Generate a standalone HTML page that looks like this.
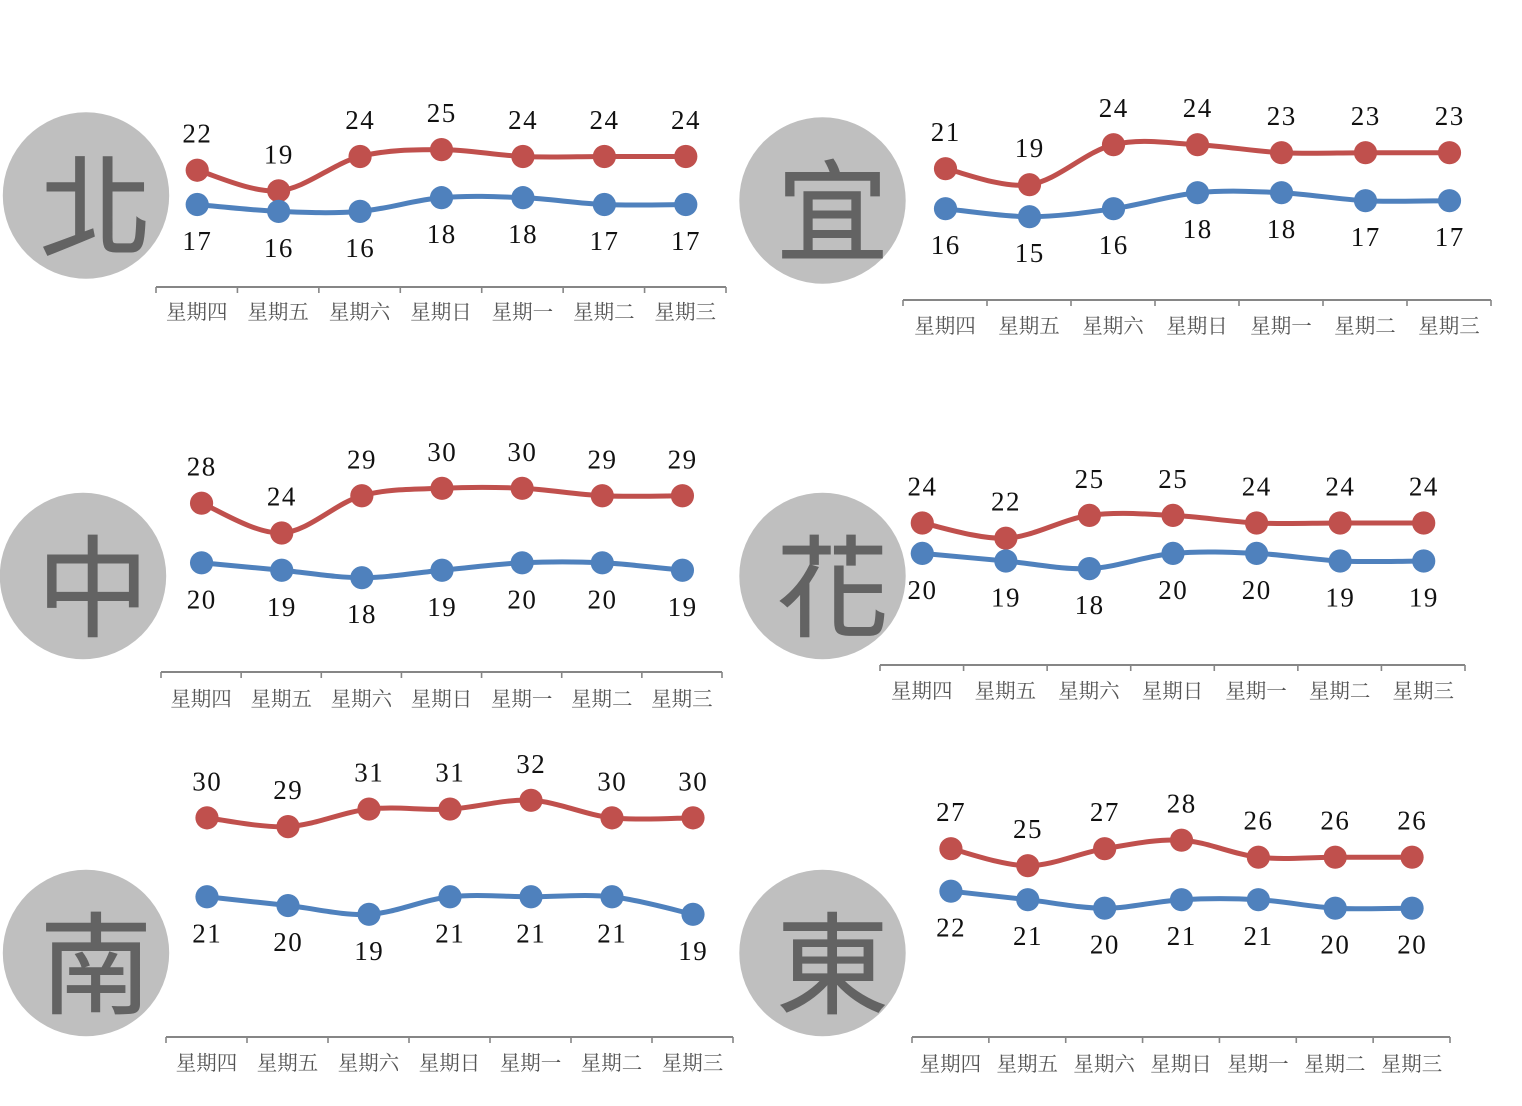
<!DOCTYPE html>
<html lang="zh-Hant">
<head>
<meta charset="utf-8">
<title>一週氣溫預報</title>
<style>
html,body{margin:0;padding:0;background:#fff;}
svg{display:block;}
.val{font-family:"Liberation Serif","Noto Serif CJK TC",serif;font-size:27px;fill:#111;text-anchor:middle;letter-spacing:1.5px;}
.day{font-family:"Noto Serif CJK TC","Noto Serif CJK SC","Liberation Serif",serif;font-size:20.5px;fill:#555;text-anchor:middle;}
.big{font-family:"Liberation Sans","Noto Sans CJK TC",sans-serif;font-size:110px;text-anchor:middle;}
</style>
</head>
<body>
<svg id="chart" xmlns="http://www.w3.org/2000/svg" width="1522" height="1106" viewBox="0 0 1522 1106">
<defs>
<linearGradient id="bigGrad" x1="0" y1="1" x2="1" y2="0">
<stop offset="0" stop-color="#555"/>
<stop offset="1" stop-color="#7a7a7a"/>
</linearGradient>
</defs>
</svg>
<script>
const categories = ['星期四','星期五','星期六','星期日','星期一','星期二','星期三'];

const northHigh = [22,19,24,25,24,24,24];
const northLow  = [17,16,16,18,18,17,17];
const yilanHigh = [21,19,24,24,23,23,23];
const yilanLow  = [16,15,16,18,18,17,17];
const centralHigh = [28,24,29,30,30,29,29];
const centralLow  = [20,19,18,19,20,20,19];
const hualienHigh = [24,22,25,25,24,24,24];
const hualienLow  = [20,19,18,20,20,19,19];
const southHigh = [30,29,31,31,32,30,30];
const southLow  = [21,20,19,21,21,21,19];
const eastHigh = [27,25,27,28,26,26,26];
const eastLow  = [22,21,20,21,21,20,20];

const panels = [
  {id:'north',   region:'北', high:northHigh,   low:northLow,   cx:86,    cy:195.5, left:156, right:726,  axisY:287,  refV:24, refY:156.5, ppd:6.86, dayY:319},
  {id:'yilan',   region:'宜', high:yilanHigh,   low:yilanLow,   cx:822.5, cy:200.5, left:903, right:1491, axisY:300,  refV:24, refY:144.7, ppd:8.0,  dayY:333},
  {id:'central', region:'中', high:centralHigh, low:centralLow, cx:83,    cy:576,   left:161, right:722,  axisY:672,  refV:30, refY:488.3, ppd:7.45, dayY:706},
  {id:'hualien', region:'花', high:hualienHigh, low:hualienLow, cx:822.5, cy:576,   left:880, right:1465, axisY:665,  refV:25, refY:515.4, ppd:7.6,  dayY:698},
  {id:'south',   region:'南', high:southHigh,   low:southLow,   cx:86,    cy:953,   left:166, right:733,  axisY:1037, refV:32, refY:800.3, ppd:8.77, dayY:1070},
  {id:'east',    region:'東', high:eastHigh,    low:eastLow,    cx:822.5, cy:953,   left:912, right:1450, axisY:1037, refV:28, refY:840.2, ppd:8.5,  dayY:1071}
];

const NS = 'http://www.w3.org/2000/svg';
const root = document.getElementById('chart');

function make(tag, attrs, parent, text) {
  const el = document.createElementNS(NS, tag);
  for (const k in attrs) el.setAttribute(k, attrs[k]);
  if (text !== undefined) el.textContent = text;
  parent.appendChild(el);
  return el;
}

function smoothPath(pts) {
  let d = 'M' + pts[0][0] + ' ' + pts[0][1];
  for (let i = 0; i < pts.length - 1; i++) {
    const p0 = pts[Math.max(i - 1, 0)], p1 = pts[i], p2 = pts[i + 1], p3 = pts[Math.min(i + 2, pts.length - 1)];
    const c1x = p1[0] + (p2[0] - p0[0]) / 6, c1y = p1[1] + (p2[1] - p0[1]) / 6;
    const c2x = p2[0] - (p3[0] - p1[0]) / 6, c2y = p2[1] - (p3[1] - p1[1]) / 6;
    d += ' C' + c1x + ' ' + c1y + ' ' + c2x + ' ' + c2y + ' ' + p2[0] + ' ' + p2[1];
  }
  return d;
}

function drawSeries(g, values, xAt, yAt, color, labelOffset, seriesName) {
  const pts = values.map((v, i) => [xAt(i), yAt(v)]);
  const line = make('path', {d: smoothPath(pts), fill: 'none', stroke: color, 'stroke-width': 5, 'stroke-linecap': 'round'}, g);
  
  
  values.forEach((v, i) => {
    const dot = make('circle', {cx: pts[i][0], cy: pts[i][1], r: 11.6, fill: color}, g);
    
    
    const label = make('text', {class: 'val', x: pts[i][0] + 0.2, y: pts[i][1] + labelOffset}, g, String(v));
    
    
  });
}

panels.forEach(p => {
  const g = make('g', {}, root);
  
  

  const badge = make('circle', {cx: p.cx, cy: p.cy, r: 83.2, fill: '#bfbfbf'}, g);
  
  
  const big = make('text', {class: 'big', transform: 'translate(' + (p.cx + 10) + ' ' + (p.cy + 52) + ') scale(1.02 1)', fill: '#636363', stroke: '#636363', 'stroke-width': 1}, g, p.region);
  
  

  const step = (p.right - p.left) / categories.length;
  const xAt = i => p.left + step * (i + 0.5) + 0.5;
  const yAt = v => p.refY - (v - p.refV) * p.ppd;

  const axis = make('line', {x1: p.left, x2: p.right, y1: p.axisY, y2: p.axisY, stroke: '#868686', 'stroke-width': 2}, g);
  
  
  for (let i = 0; i <= categories.length; i++) {
    const x = p.left + step * i;
    const tick = make('line', {x1: x, x2: x, y1: p.axisY, y2: p.axisY + 6, stroke: '#868686', 'stroke-width': 1.6}, g);
    
    
  }
  categories.forEach((c, i) => {
    const t = make('text', {class: 'day', x: xAt(i) - 0.5, y: p.dayY}, g, c);
    
    
  });

  drawSeries(g, p.high, xAt, yAt, '#c0504d', -27.5, p.id + '-high');
  drawSeries(g, p.low, xAt, yAt, '#4f81bd', 45.5, p.id + '-low');
});
</script>
</body>
</html>
